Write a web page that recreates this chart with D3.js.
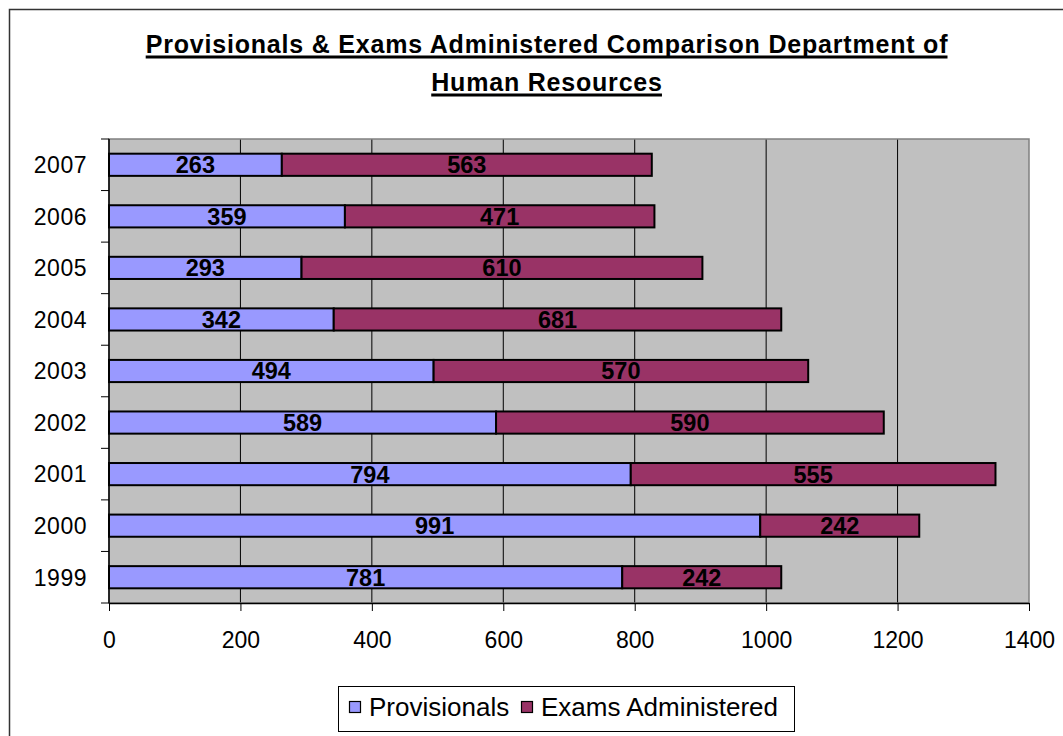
<!DOCTYPE html>
<html>
<head>
<meta charset="utf-8">
<script src="https://cdn.jsdelivr.net/npm/d3@7"></script>
<style>
  body { margin: 0; background: #fff; }
  svg text { font-family: "Liberation Sans", Arial, sans-serif; }
</style>
</head>
<body>
<div id="chart"></div>
<script>
// Data
const years = ["1999", "2000", "2001", "2002", "2003", "2004", "2005", "2006", "2007"];
const provisionals = [781, 991, 794, 589, 494, 342, 293, 359, 263];
const examsAdministered = [242, 242, 555, 590, 570, 681, 610, 471, 563];
const seriesNames = ["Provisionals", "Exams Administered"];
const xTicks = [0, 200, 400, 600, 800, 1000, 1200, 1400];
const titleLines = ["Provisionals & Exams Administered Comparison Department of", "Human Resources"];

const colors = ["#9999FF", "#993366"];

const W = 1063, H = 736;
const margin = { top: 139, right: 34, bottom: 133, left: 109 };
const width = W - margin.left - margin.right;
const height = H - margin.top - margin.bottom;

const root = d3.select("#chart")
  .append("svg")
  .attr("width", W)
  .attr("height", H);

// outer chart border (runs off the right and bottom edge)
root.append("rect")
  .attr("x", 9.5).attr("y", 9.5)
  .attr("width", W + 20).attr("height", H + 20)
  .attr("fill", "#fff")
  .attr("stroke", "#333").attr("stroke-width", 1.5);

// title, underlined by hand so the rule is as heavy as the original
const titleY = [53, 91];
titleLines.forEach((line, i) => {
  const t = root.append("text")
    .attr("x", 547)
    .attr("y", titleY[i])
    .attr("text-anchor", "middle")
    .style("font-weight", "bold")
    .style("font-size", "25px")
    .style("letter-spacing", "0.8px")
    .text(line);
  const bb = t.node().getBBox();
  root.append("line")
    .attr("x1", bb.x).attr("x2", bb.x + bb.width - 0.8)
    .attr("y1", titleY[i] + 4).attr("y2", titleY[i] + 4)
    .attr("stroke", "#000").attr("stroke-width", 3);
});

const svg = root.append("g")
  .attr("transform", "translate(" + margin.left + "," + margin.top + ")");

const x = d3.scaleLinear()
  .domain([0, 1400])
  .range([0, width]);

const y = d3.scaleBand()
  .domain(years.slice().reverse())
  .range([0, height])
  .paddingInner(0.57)
  .paddingOuter(0.285);

// plot area
svg.append("rect")
  .attr("width", width)
  .attr("height", height)
  .attr("fill", "#C0C0C0");

// gridlines
svg.append("g")
  .selectAll("line")
  .data(xTicks.slice(1, -1))
  .enter().append("line")
  .attr("x1", d => x(d)).attr("x2", d => x(d))
  .attr("y1", 0).attr("y2", height)
  .attr("stroke", "#000").attr("stroke-width", 1);

svg.append("rect")
  .attr("width", width)
  .attr("height", height)
  .attr("fill", "none")
  .attr("stroke", "#808080").attr("stroke-width", 1.5);

// stacked data
const table = years.map((yr, i) => ({ year: yr, Provisionals: provisionals[i], "Exams Administered": examsAdministered[i] }));
const stacked = d3.stack().keys(seriesNames)(table);

const layers = svg.selectAll(".layer")
  .data(stacked)
  .enter().append("g")
  .attr("class", "layer")
  .attr("fill", (d, i) => colors[i]);

layers.selectAll("rect")
  .data(d => d)
  .enter().append("rect")
  .attr("x", d => x(d[0]))
  .attr("y", d => y(d.data.year))
  .attr("width", d => x(d[1]) - x(d[0]))
  .attr("height", y.bandwidth())
  .attr("stroke", "#000")
  .attr("stroke-width", 2);

// value labels
layers.selectAll("text")
  .data(d => d)
  .enter().append("text")
  .attr("x", d => (x(d[0]) + x(d[1])) / 2)
  .attr("y", d => y(d.data.year) + y.bandwidth() / 2)
  .attr("dy", "0.36em")
  .attr("text-anchor", "middle")
  .attr("fill", "#000")
  .style("font-weight", "bold")
  .style("font-size", "23.5px")
  .text(d => d[1] - d[0]);

// axes
const xAxis = svg.append("g")
  .attr("transform", "translate(0," + height + ")")
  .call(d3.axisBottom(x).tickValues(xTicks).tickFormat(d3.format("d"))
    .tickSize(8).tickPadding(21).tickSizeOuter(0));
xAxis.select(".domain").attr("stroke", "#000").attr("stroke-width", 1.5);
xAxis.selectAll("line").attr("stroke", "#000");
xAxis.selectAll("text")
  .style("font-size", "23px")
  .style("font-family", "'Liberation Sans', Arial, sans-serif")
  .attr("fill", "#000");

// category axis: ticks sit on the band boundaries
const yAxis = svg.append("g");
yAxis.append("line")
  .attr("x1", 0).attr("x2", 0).attr("y1", 0).attr("y2", height)
  .attr("stroke", "#000").attr("stroke-width", 1.5);
const step = y.step();
const bandTop = y(years[years.length - 1]) - step * y.paddingOuter();
yAxis.selectAll(".bt")
  .data(d3.range(years.length + 1))
  .enter().append("line")
  .attr("x1", -8).attr("x2", 0)
  .attr("y1", i => bandTop + i * step)
  .attr("y2", i => bandTop + i * step)
  .attr("stroke", "#000");
yAxis.selectAll("text")
  .data(years)
  .enter().append("text")
  .attr("x", -22)
  .attr("y", d => y(d) + y.bandwidth() / 2)
  .attr("dy", "0.36em")
  .attr("text-anchor", "end")
  .style("font-size", "23px")
  .style("letter-spacing", "0.5px")
  .text(d => d);

// legend
const legend = root.append("g");
legend.append("rect")
  .attr("x", 338.5).attr("y", 686.5)
  .attr("width", 456).attr("height", 45)
  .attr("fill", "#fff")
  .attr("stroke", "#000").attr("stroke-width", 1);
const legendX = [349, 521];
seriesNames.forEach((name, i) => {
  legend.append("rect")
    .attr("x", legendX[i] + 0.5).attr("y", 701.5)
    .attr("width", 11).attr("height", 11)
    .attr("fill", colors[i])
    .attr("stroke", "#000").attr("stroke-width", 1.2);
  legend.append("text")
    .attr("x", legendX[i] + 20).attr("y", 716)
    .style("font-size", "26px")
    .text(name);
});
</script>
</body>
</html>
